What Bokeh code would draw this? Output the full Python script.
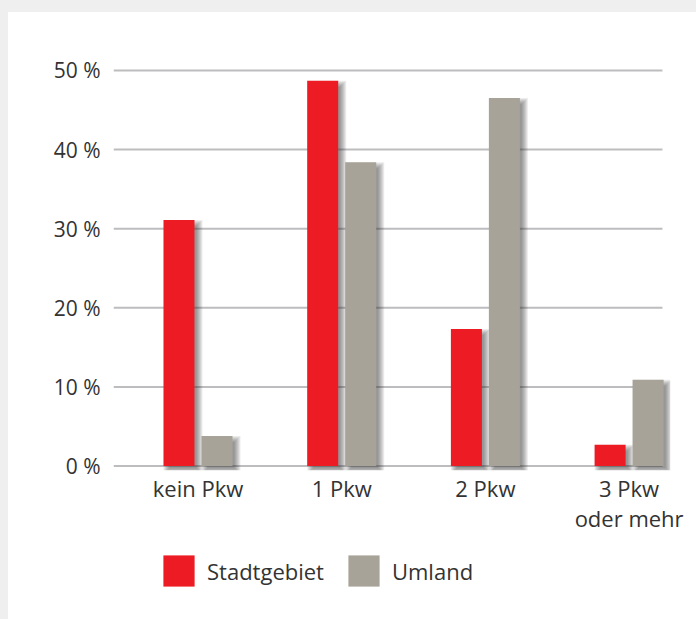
from bokeh.plotting import figure
from bokeh.models import ColumnDataSource, FixedTicker, Legend, LegendItem, Range1d
from bokeh.layouts import column
from bokeh.embed import file_html
from bokeh.resources import INLINE

# ---- data ----
categories = ["kein Pkw", "1 Pkw", "2 Pkw", "3 Pkw\noder mehr"]
stadtgebiet = [31.1, 48.7, 17.3, 2.7]
umland = [3.8, 38.4, 46.5, 10.9]
yticks = [0, 10, 20, 30, 40, 50]
ytick_labels = ["0 %", "10 %", "20 %", "30 %", "40 %", "50 %"]
series_names = ["Stadtgebiet", "Umland"]

RED = "#ED1C24"
GRAY = "#A7A398"
TEXT = "#333333"
FONT = "Open Sans"

# pixel helpers (x: 143.7 px per category, y: 7.93 px per percent)
PX = 1 / 143.7
PY = 1 / 7.93
BAR_W = 31 * PX
OFF = 19 * PX

xpos = list(range(len(categories)))

p = figure(width=688, height=523,
           x_range=Range1d(-0.588, 3.288), y_range=Range1d(-0.567, 55.04),
           output_backend="svg", toolbar_location=None,
           min_border_left=105, min_border_right=26,
           min_border_top=18, min_border_bottom=64)
p.outline_line_color = None
p.background_fill_color = "white"
p.border_fill_color = "white"
p.xgrid.visible = False
p.ygrid.visible = False

# gridlines
p.segment(x0=[-0.588] * len(yticks), x1=[3.232] * len(yticks), y0=yticks, y1=yticks,
          line_color="#BDBDC0", line_width=2)

def draw_series(values, offset, color):
    xs = [x + offset for x in xpos]
    # soft drop shadow (layered)
    for e in [-2, -1, 0, 1, 2, 3, 4]:
        src = ColumnDataSource(dict(
            x=[x + 4 * PX for x in xs],
            top=[v - 4 * PY + e * PY for v in values],
            bottom=[0 - 4 * PY - e * PY for v in values]))
        p.vbar(x="x", top="top", bottom="bottom", width=BAR_W + 2 * e * PX, source=src,
               fill_color="#303030", fill_alpha=0.09, line_color=None)
    src = ColumnDataSource(dict(x=xs, top=values))
    return p.vbar(x="x", top="top", bottom=0, width=BAR_W, source=src,
                  fill_color=color, line_color=None)

r1 = draw_series(stadtgebiet, -OFF, RED)
r2 = draw_series(umland, OFF, GRAY)

# axes
p.yaxis.ticker = FixedTicker(ticks=yticks)
p.yaxis.major_label_overrides = {t: l for t, l in zip(yticks, ytick_labels)}
p.xaxis.ticker = FixedTicker(ticks=xpos)
p.xaxis.major_label_overrides = {x: c for x, c in zip(xpos, categories)}
for ax in (p.xaxis[0], p.yaxis[0]):
    ax.axis_line_color = None
    ax.major_tick_line_color = None
    ax.minor_tick_line_color = None
    ax.major_tick_out = 0
    ax.major_tick_in = 0
    ax.major_label_text_font = FONT
    ax.major_label_text_color = TEXT
p.yaxis.major_label_text_font_size = "21px"
p.xaxis.major_label_text_font_size = "22px"
p.yaxis.major_label_standoff = 13
p.xaxis.major_label_standoff = 2
p.xaxis.major_label_text_line_height = 1.0

# ---- legend strip (separate small figure below the chart) ----
pl = figure(width=688, height=84, x_range=Range1d(0, 1), y_range=Range1d(0, 1),
            output_backend="svg", toolbar_location=None,
            min_border_left=0, min_border_right=0, min_border_top=0, min_border_bottom=0)
pl.axis.visible = False
pl.grid.visible = False
pl.outline_line_color = None
pl.background_fill_color = "white"
pl.border_fill_color = "white"
# renderers only used for the legend swatches (zero height, so invisible in the plot)
l1 = pl.vbar(x=[0.5], top=[0], bottom=[0], width=0.01, fill_color=RED, line_color=None)
l2 = pl.vbar(x=[0.5], top=[0], bottom=[0], width=0.01, fill_color=GRAY, line_color=None)

legend = Legend(items=[LegendItem(label=series_names[0], renderers=[l1]),
                       LegendItem(label=series_names[1], renderers=[l2])],
                orientation="horizontal", location=(46, 29),
                glyph_width=39, glyph_height=39, label_standoff=9, spacing=20,
                padding=0, margin=0, border_line_color=None,
                background_fill_alpha=0,
                label_text_font=FONT, label_text_font_size="22px",
                label_text_color=TEXT)
pl.add_layout(legend, "center")

layout = column(p, pl, spacing=0, width=696, height=619,
                styles={"background-color": "white",
                        "border-left": "8px solid #EFEFEF",
                        "border-top": "12px solid #EFEFEF"})

open("out.html", "w").write(file_html(layout, INLINE))
